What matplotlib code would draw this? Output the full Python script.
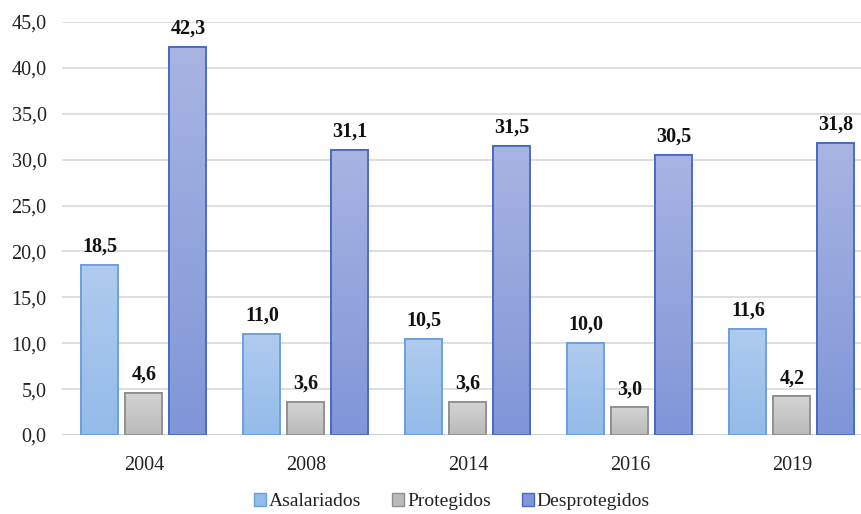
import numpy as np
import matplotlib
matplotlib.use("Agg")
import matplotlib.pyplot as plt
from matplotlib.colors import LinearSegmentedColormap
from matplotlib.patches import Patch

# datos
years = ["2004", "2008", "2014", "2016", "2019"]
series = ["Asalariados", "Protegidos", "Desprotegidos"]
asalariados = [18.5, 11.0, 10.5, 10.0, 11.6]
protegidos = [4.6, 3.6, 3.6, 3.0, 4.2]
desprotegidos = [42.3, 31.1, 31.5, 30.5, 31.8]
values = [asalariados, protegidos, desprotegidos]

# colores (arriba, abajo, borde)
grad_top = ["#b0cbee", "#d4d4d4", "#a8b4e2"]
grad_bot = ["#93bbe9", "#bababa", "#8096d8"]
edge_cols = ["#6b9fdb", "#8f8f8f", "#4568c2"]

plt.rcParams['font.family'] = ['Liberation Serif', 'DejaVu Serif']
FS = 14.5

fig = plt.figure(figsize=(8.61, 5.14), dpi=100)
ax = fig.add_axes([62 / 861, 1 - 435 / 514, 1 - 62 / 861, (435 - 22) / 514])

x = np.arange(len(years))
w = 37 / 162
step = 44 / 162

for i, vals in enumerate(values):
    pos = x + (i - 1) * step
    bars = ax.bar(pos, vals, width=w, color=grad_bot[i], edgecolor=edge_cols[i],
                  linewidth=1.3, zorder=3, label=series[i])
    cmap = LinearSegmentedColormap.from_list("g%d" % i, [grad_bot[i], grad_top[i]])
    for b in bars:
        bx, by = b.get_x(), b.get_y()
        bw, bh = b.get_width(), b.get_height()
        grad = np.linspace(0, 1, 100).reshape(-1, 1)
        im = ax.imshow(grad, cmap=cmap, origin="lower", aspect="auto",
                       extent=[bx, bx + bw, by, by + bh], zorder=3.5)
        im.set_clip_path(b)
        # borde encima
        ax.bar(bx + bw / 2, bh, width=bw, fill=False, edgecolor=edge_cols[i],
               linewidth=1.3, zorder=4)
    for p, v in zip(pos, vals):
        ax.annotate(f"{v:.1f}".replace(".", ","), (p, v), xytext=(0, 6),
                    textcoords="offset points", ha="center", va="bottom",
                    fontsize=FS, fontweight="bold", color="#111111", zorder=5)

ax.set_xlim(-0.506, 4.426)
ax.set_ylim(0, 45)
ax.set_yticks(np.arange(0, 46, 5))
ax.set_yticklabels([f"{t:.1f}".replace(".", ",") for t in np.arange(0, 46, 5)],
                   fontsize=FS, color="#222222")
ax.set_xticks(x)
ax.set_xticklabels(years, fontsize=FS, color="#222222")
ax.tick_params(axis="both", length=0)
ax.tick_params(axis="y", pad=11)
ax.tick_params(axis="x", pad=15)
ax.grid(axis="y", color="#d9d9d9", linewidth=1.2, zorder=0)
for s in ax.spines.values():
    s.set_visible(False)
ax.axhline(0, color="#d0d0d0", linewidth=1.3, zorder=2)

handles = [Patch(facecolor=grad_bot[i], edgecolor=edge_cols[i], label=series[i])
           for i in range(3)]
leg = fig.legend(handles=handles, loc="lower center", bbox_to_anchor=(0.525, -0.027),
                 ncol=3, frameon=False, fontsize=14,
                 handlelength=0.6, handleheight=0.6, handletextpad=0.15, columnspacing=1.6)
for t in leg.get_texts():
    t.set_fontfamily(["Liberation Serif", "DejaVu Serif"])
    t.set_color("#222222")

fig.savefig("out.png", dpi=100)
